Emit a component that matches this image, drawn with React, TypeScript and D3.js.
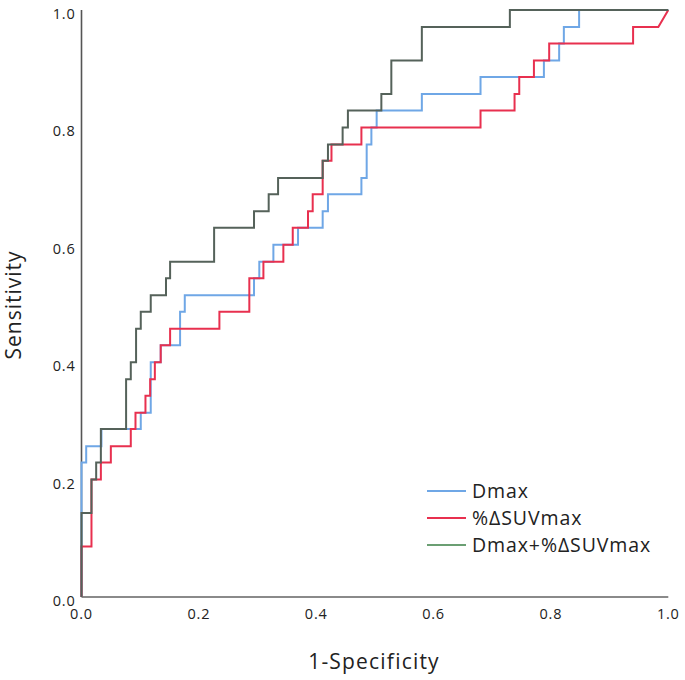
import React from "react";
import * as d3 from "d3";

const seriesNames = ["Dmax", "%ΔSUVmax", "Dmax+%ΔSUVmax"];
const seriesColors = ["#6fa7e6", "#e8304f", "#55625a"];
const legendColors = ["#6fa7e6", "#e8304f", "#6b9f73"];

const dmaxFpr = [0, 0, 0.008, 0.034, 0.101, 0.118, 0.135, 0.168, 0.176, 0.294, 0.303, 0.327, 0.369, 0.411, 0.420, 0.477, 0.486, 0.494, 0.503, 0.580, 0.680, 0.788, 0.814, 0.822, 0.848, 1];
const dmaxTpr = [0, 0.229, 0.257, 0.286, 0.314, 0.4, 0.429, 0.486, 0.514, 0.543, 0.571, 0.6, 0.629, 0.657, 0.686, 0.714, 0.771, 0.8, 0.829, 0.857, 0.886, 0.914, 0.943, 0.971, 1, 1];

const suvFpr = [0, 0, 0.017, 0.033, 0.050, 0.084, 0.092, 0.109, 0.117, 0.125, 0.135, 0.151, 0.235, 0.286, 0.310, 0.344, 0.360, 0.386, 0.394, 0.411, 0.426, 0.477, 0.680, 0.738, 0.746, 0.771, 0.797, 0.940, 0.983, 1];
const suvTpr = [0, 0.086, 0.2, 0.229, 0.257, 0.286, 0.314, 0.343, 0.371, 0.4, 0.429, 0.457, 0.486, 0.543, 0.571, 0.6, 0.629, 0.657, 0.686, 0.743, 0.771, 0.8, 0.829, 0.857, 0.886, 0.914, 0.943, 0.971, 0.971, 1];

const comboFpr = [0, 0, 0.017, 0.025, 0.033, 0.076, 0.084, 0.093, 0.101, 0.118, 0.144, 0.151, 0.226, 0.294, 0.319, 0.335, 0.411, 0.420, 0.445, 0.454, 0.511, 0.528, 0.580, 0.730, 1];
const comboTpr = [0, 0.143, 0.2, 0.229, 0.286, 0.371, 0.4, 0.457, 0.486, 0.514, 0.543, 0.571, 0.629, 0.657, 0.686, 0.714, 0.743, 0.771, 0.8, 0.829, 0.857, 0.914, 0.971, 1, 1];

const tickValues = [0, 0.2, 0.4, 0.6, 0.8, 1.0];

function stepPoints(f: number[], t: number[], diagonalEnd: boolean): [number, number][] {
  const pts: [number, number][] = [[f[0], t[0]]];
  for (let i = 1; i < f.length; i++) {
    if (diagonalEnd && i === f.length - 1) {
      pts.push([f[i], t[i]]);
    } else {
      pts.push([f[i], t[i - 1]]);
      pts.push([f[i], t[i]]);
    }
  }
  return pts;
}

export default function App() {
  const W = 685, H = 680;
  const x = d3.scaleLinear().domain([0, 1]).range([81.5, 668.3]);
  const y = d3.scaleLinear().domain([0, 1]).range([597, 10]);
  const line = d3.line<[number, number]>().x(d => x(d[0])).y(d => y(d[1]));

  const curves = [
    stepPoints(dmaxFpr, dmaxTpr, false),
    stepPoints(suvFpr, suvTpr, true),
    stepPoints(comboFpr, comboTpr, false),
  ];

  const font = "'Open Sans', 'DejaVu Sans', sans-serif";

  return (
    <svg width={W} height={H} style={{ position: "absolute", left: 0, top: 0, background: "#fff" }}>
      <line x1={x(0)} x2={x(1)} y1={y(0)} y2={y(0)} stroke="#8a8a8a" strokeWidth={2} />
      <line x1={x(0)} x2={x(0)} y1={y(0)} y2={y(1)} stroke="#555" strokeWidth={1.6} />
      {tickValues.map(v => (
        <text key={"x" + v} x={x(v)} y={y(0) + 22} textAnchor="middle" fontFamily={font} fontSize={14.5} letterSpacing={0.8} fill="#222">
          {v.toFixed(1)}
        </text>
      ))}
      {tickValues.map(v => (
        <text key={"y" + v} x={x(0) - 6} y={y(v) + 9} textAnchor="end" fontFamily={font} fontSize={14.5} letterSpacing={0.8} fill="#222">
          {v.toFixed(1)}
        </text>
      ))}
      <text x={374} y={669} textAnchor="middle" fontFamily={font} fontSize={21} letterSpacing={1.2} fill="#222">1-Specificity</text>
      <text transform="translate(21,305) rotate(-90)" textAnchor="middle" fontFamily={font} fontSize={21} letterSpacing={1} fill="#222">Sensitivity</text>

      {curves.map((pts, i) => (
        <path key={i} d={line(pts) || ""} fill="none" stroke={seriesColors[i]} strokeWidth={2} strokeLinejoin="miter" />
      ))}

      {seriesNames.map((name, i) => (
        <g key={name} transform={`translate(427,${491 + i * 27})`}>
          <line x1={0} x2={39} y1={0} y2={0} stroke={legendColors[i]} strokeWidth={2} />
          <text x={45} y={7} fontFamily={font} fontSize={19.5} letterSpacing={0.9} fill="#222">{name}</text>
        </g>
      ))}
    </svg>
  );
}
